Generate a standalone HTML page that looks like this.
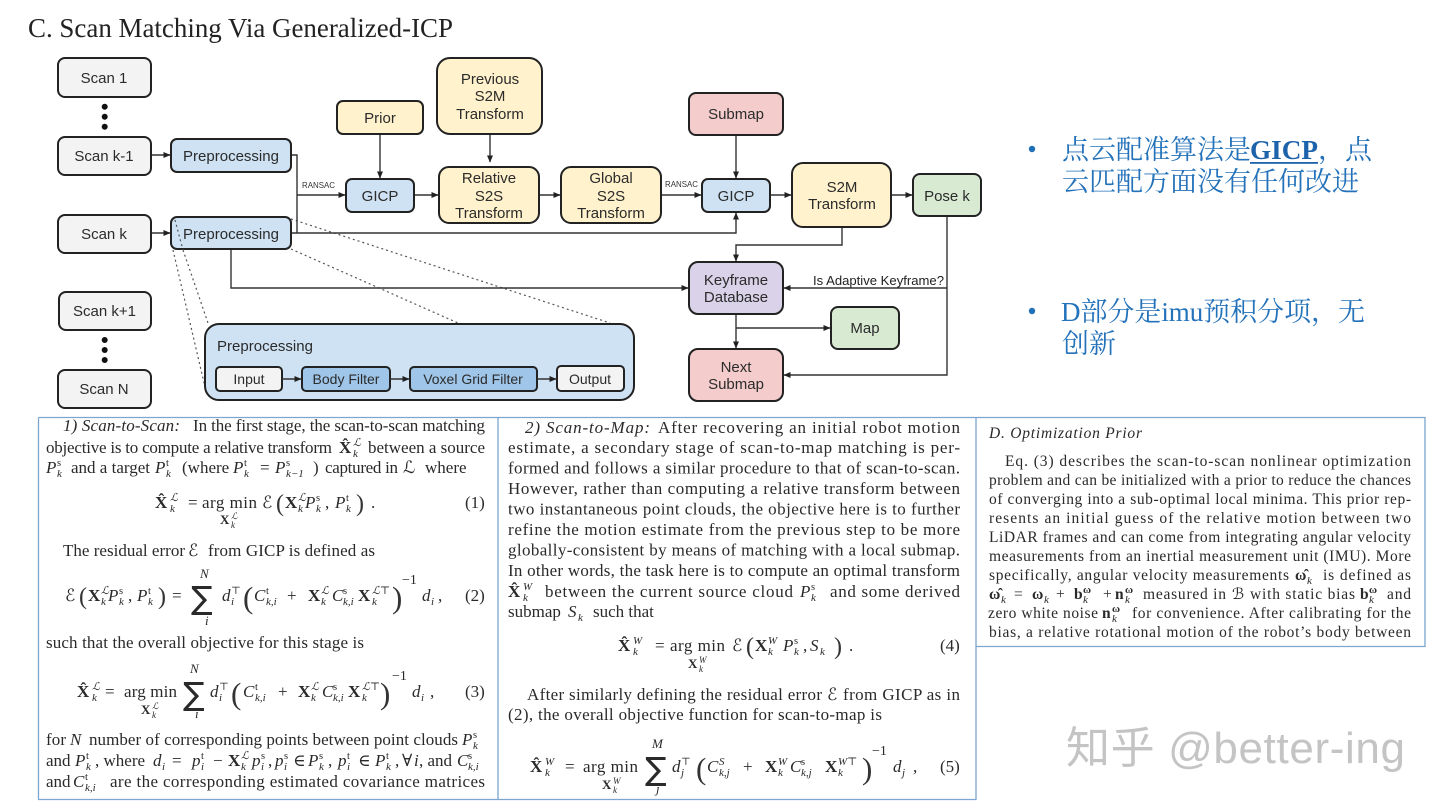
<!DOCTYPE html>
<html lang="zh"><head><meta charset="utf-8"><title>Scan Matching Via Generalized-ICP</title>
<style>
html,body{margin:0;padding:0;background:#fff}
svg{display:block}
.n{stroke:#222;stroke-width:2}
.l{font:15px "Liberation Sans","DejaVu Sans",sans-serif;fill:#2b2b2b;text-anchor:middle}
.c{stroke:#333;stroke-width:1.4;fill:none}
.d{stroke:#555;stroke-width:1.2;fill:none;stroke-dasharray:2 3}
.t{font:17px "Liberation Serif","DejaVu Serif",serif;fill:#2a2a2a}
.q{font:15.5px "Liberation Serif","DejaVu Serif",serif;fill:#2a2a2a}
.i{font-style:italic}
.b{font-weight:bold}
.s{font:italic 11px "Liberation Serif","DejaVu Serif",serif;fill:#2a2a2a}
.u{font:10.5px "Liberation Serif","DejaVu Serif",serif;fill:#2a2a2a}
.sb{font:bold 11px "Liberation Serif","DejaVu Serif",serif;fill:#2a2a2a}
.g{font:300 31px "Liberation Serif",serif;fill:#333}
.z{font:36px "DejaVu Sans",serif;fill:#2a2a2a}
.k{font:27px "Liberation Serif","Noto Serif CJK SC",serif;fill:#2472ba}
</style></head><body>
<svg xmlns="http://www.w3.org/2000/svg" width="1440" height="810" viewBox="0 0 1440 810">
<defs><marker id="a" markerWidth="7" markerHeight="6" refX="6.5" refY="3" orient="auto" markerUnits="userSpaceOnUse"><path d="M0 0L7 3L0 6z" fill="#222"/></marker></defs>
<rect width="1440" height="810" fill="#fff"/>
<text x="28" y="37" textLength="425" lengthAdjust="spacingAndGlyphs" style="font:27px 'Liberation Serif',serif;fill:#222">C. Scan Matching Via Generalized-ICP</text>

<!-- dotted -->
<path class="d" d="M291 219L610 323M291 249L458 323M173 250L205 387M183 250L208 323"/>

<!-- connectors -->
<g class="c">
<path d="M151 155H170" marker-end="url(#a)"/>
<path d="M151 233H170" marker-end="url(#a)"/>
<path d="M291 155H297V233"/>
<path d="M297 195H345" marker-end="url(#a)"/>
<path d="M291 233H736V213" marker-end="url(#a)"/>
<path d="M231 249V288H688" marker-end="url(#a)"/>
<path d="M380 134V178" marker-end="url(#a)"/>
<path d="M490 134V162" marker-end="url(#a)"/>
<path d="M414 195H438" marker-end="url(#a)"/>
<path d="M539 195H560" marker-end="url(#a)"/>
<path d="M661 195H701" marker-end="url(#a)"/>
<path d="M770 195H791" marker-end="url(#a)"/>
<path d="M891 195H912" marker-end="url(#a)"/>
<path d="M736 135V178" marker-end="url(#a)"/>
<path d="M842 227V245H736V261" marker-end="url(#a)"/>
<path d="M947 216V375H784" marker-end="url(#a)"/>
<path d="M947 288H784" marker-end="url(#a)"/>
<path d="M736 314V348" marker-end="url(#a)"/>
<path d="M736 328H830" marker-end="url(#a)"/>
</g>

<!-- nodes -->
<g class="n">
<rect x="58" y="58" width="93" height="39" rx="7" fill="#f3f3f3"/>
<rect x="58" y="137" width="93" height="38" rx="7" fill="#f3f3f3"/>
<rect x="58" y="215" width="93" height="38" rx="7" fill="#f3f3f3"/>
<rect x="59" y="292" width="92" height="38" rx="7" fill="#f3f3f3"/>
<rect x="58" y="370" width="93" height="38" rx="7" fill="#f3f3f3"/>
<rect x="171" y="139" width="120" height="33" rx="6" fill="#cfe2f3"/>
<rect x="171" y="217" width="120" height="32" rx="6" fill="#cfe2f3"/>
<rect x="337" y="101" width="86" height="33" rx="6" fill="#fff2cc"/>
<rect x="437" y="58" width="105" height="76" rx="13" fill="#fff2cc"/>
<rect x="346" y="179" width="68" height="33" rx="6" fill="#cfe2f3"/>
<rect x="439" y="167" width="100" height="56" rx="10" fill="#fff2cc"/>
<rect x="561" y="167" width="100" height="56" rx="10" fill="#fff2cc"/>
<rect x="702" y="179" width="68" height="33" rx="6" fill="#cfe2f3"/>
<rect x="689" y="93" width="94" height="42" rx="7" fill="#f4cccc"/>
<rect x="792" y="163" width="99" height="64" rx="11" fill="#fff2cc"/>
<rect x="913" y="174" width="68" height="42" rx="7" fill="#d9ead3"/>
<rect x="689" y="262" width="94" height="52" rx="9" fill="#d9d2e9"/>
<rect x="831" y="307" width="68" height="42" rx="7" fill="#d9ead3"/>
<rect x="689" y="349" width="94" height="52" rx="9" fill="#f4cccc"/>
<rect x="205" y="324" width="429" height="76" rx="14" fill="#cfe2f3"/>
<rect x="216" y="367" width="66" height="24" rx="4" fill="#f3f3f3"/>
<rect x="302" y="367" width="88" height="24" rx="4" fill="#9fc5e8"/>
<rect x="410" y="367" width="127" height="24" rx="4" fill="#9fc5e8"/>
<rect x="557" y="366" width="67" height="25" rx="4" fill="#f3f3f3"/>
</g>
<path class="d" d="M175 220L183 250"/>
<g class="c">
<path d="M282 379H301" marker-end="url(#a)"/>
<path d="M390 379H409" marker-end="url(#a)"/>
<path d="M537 379H556" marker-end="url(#a)"/>
</g>

<g fill="#111">
<circle cx="104.7" cy="106.7" r="3"/><circle cx="104.7" cy="116.7" r="3"/><circle cx="104.7" cy="126.7" r="3"/>
<circle cx="104.7" cy="340" r="3"/><circle cx="104.7" cy="350" r="3"/><circle cx="104.7" cy="360" r="3"/>
</g>

<!-- labels -->
<g class="l">
<text class="l" x="104" y="83">Scan 1</text>
<text class="l" x="104" y="161">Scan k-1</text>
<text class="l" x="104" y="239">Scan k</text>
<text class="l" x="104.500" y="316">Scan k+1</text>
<text class="l" x="104" y="394">Scan N</text>
<text class="l" x="231" y="161">Preprocessing</text>
<text class="l" x="231" y="239">Preprocessing</text>
<text class="l" x="380" y="123">Prior</text>
<text class="l" x="490" y="84">Previous</text>
<text class="l" x="490" y="101">S2M</text>
<text class="l" x="490" y="119">Transform</text>
<text class="l" x="380" y="201">GICP</text>
<text class="l" x="489" y="183">Relative</text>
<text class="l" x="489" y="201">S2S</text>
<text class="l" x="489" y="218">Transform</text>
<text class="l" x="611" y="183">Global</text>
<text class="l" x="611" y="201">S2S</text>
<text class="l" x="611" y="218">Transform</text>
<text class="l" x="736" y="201">GICP</text>
<text class="l" x="736" y="119">Submap</text>
<text class="l" x="842" y="192">S2M</text>
<text class="l" x="842" y="209">Transform</text>
<text class="l" x="947" y="201">Pose k</text>
<text class="l" x="736" y="285">Keyframe</text>
<text class="l" x="736" y="302">Database</text>
<text class="l" x="865" y="333">Map</text>
<text class="l" x="736" y="372">Next</text>
<text class="l" x="736" y="389">Submap</text>
<text class="l" x="265" y="351">Preprocessing</text>
<text class="l" x="249" y="384" style="font-size:14px">Input</text>
<text class="l" x="346" y="384" style="font-size:14px">Body Filter</text>
<text class="l" x="473" y="384" style="font-size:14px">Voxel Grid Filter</text>
<text class="l" x="590" y="384" style="font-size:14px">Output</text>
</g>
<text x="302" y="188" textLength="33" lengthAdjust="spacingAndGlyphs" style="font:8.500px 'Liberation Sans',sans-serif;fill:#333">RANSAC</text>
<text x="665" y="187" textLength="33" lengthAdjust="spacingAndGlyphs" style="font:8.500px 'Liberation Sans',sans-serif;fill:#333">RANSAC</text>
<text x="813" y="285" textLength="131" lengthAdjust="spacingAndGlyphs" style="font:12.500px 'Liberation Sans',sans-serif;fill:#222">Is Adaptive Keyframe?</text>

<!-- right notes -->
<circle cx="1032" cy="149" r="3.200" fill="#2070b8"/>
<circle cx="1032" cy="311" r="3.200" fill="#2070b8"/>
<text class="k" x="1062" y="159">点云配准算法是</text>
<text class="k b" x="1250" y="159" textLength="68" lengthAdjust="spacingAndGlyphs" style="fill:#1d63ab;font-weight:bold">GICP</text>
<rect x="1250" y="162" width="68" height="1.800" fill="#1d63ab"/>
<text class="k" x="1318" y="159">，</text>
<text class="k" x="1345" y="159">点</text>
<text class="k" x="1062" y="191">云匹配方面没有任何改进</text>
<text class="k" x="1061" y="321" textLength="304" lengthAdjust="spacing">D部分是imu预积分项，无</text>
<text class="k" x="1062" y="353">创新</text>

<!-- boxes -->
<path d="M38.500 417.500H1425V646.500H976M498 417.500V800M976 417.500V800M38.500 417.500V799.500H976" fill="none" stroke="#7aa6cf" stroke-width="1.300"/>

<!-- column 1 -->
<text class="t i" x="63" y="431" textLength="117" lengthAdjust="spacing">1)  Scan-to-Scan:</text>
<text class="t" x="193" y="431" textLength="292" lengthAdjust="spacing">In the first stage, the scan-to-scan matching</text>
<text class="t" x="46" y="453" textLength="286" lengthAdjust="spacing">objective is to compute a relative transform</text>
<text class="t b" x="339" y="453">X̂</text><text class="s" x="353" y="446">ℒ</text><text class="s" x="353" y="457">k</text>
<text class="t" x="368" y="453" textLength="117" lengthAdjust="spacing">between a source</text>
<text class="t i" x="46" y="473">P</text><text class="u" x="57" y="466">s</text><text class="s" x="57" y="477">k</text>
<text class="t" x="71" y="473">and a target</text>
<text class="t i" x="155" y="473">P</text><text class="u" x="166" y="466">t</text><text class="s" x="166" y="477">k</text>
<text class="t" x="182" y="473">(where</text>
<text class="t i" x="233" y="473">P</text><text class="u" x="244" y="466">t</text><text class="s" x="244" y="477">k</text>
<text class="t" x="260" y="473">=</text>
<text class="t i" x="275" y="473">P</text><text class="u" x="286" y="466">s</text><text class="s" x="286" y="477">k−1</text>
<text class="t" x="313" y="473">)</text>
<text class="t" x="325" y="473" textLength="73" lengthAdjust="spacing">captured in</text>
<text class="t" x="403" y="473">ℒ</text>
<text class="t" x="425" y="473">where</text>

<text class="t b" x="155" y="508">X̂</text><text class="s" x="170" y="501">ℒ</text><text class="s" x="170" y="512">k</text>
<text class="t" x="188" y="508">= </text><text class="t" x="202" y="508" textLength="55" lengthAdjust="spacing">arg min</text>
<text class="sb" x="220" y="524" style="font-size:13px">X</text><text class="s" x="231" y="519" style="font-size:9px">ℒ</text><text class="s" x="231" y="528" style="font-size:9px">k</text>
<text class="t" x="262" y="508">ℰ</text><text class="g" x="276" y="511" style="font-size:24px">(</text>
<text class="t b" x="285" y="508">X</text><text class="s" x="298" y="501">ℒ</text><text class="s" x="298" y="512">k</text>
<text class="t i" x="305" y="508">P</text><text class="u" x="316" y="501">s</text><text class="s" x="316" y="512">k</text><text class="t" x="325" y="508">,</text>
<text class="t i" x="335" y="508">P</text><text class="u" x="346" y="501">t</text><text class="s" x="346" y="512">k</text>
<text class="g" x="356" y="511" style="font-size:24px">)</text><text class="t" x="371" y="508">.</text>
<text class="t" x="465" y="508">(1)</text>

<text class="t" x="63" y="556" textLength="122" lengthAdjust="spacing">The residual error</text>
<text class="t" x="188" y="556">ℰ</text>
<text class="t" x="208" y="556" textLength="167" lengthAdjust="spacing">from GICP is defined as</text>

<text class="t" x="65" y="601">ℰ</text><text class="g" x="79" y="604" style="font-size:24px">(</text>
<text class="t b" x="88" y="601">X</text><text class="s" x="101" y="594">ℒ</text><text class="s" x="101" y="605">k</text>
<text class="t i" x="108" y="601">P</text><text class="u" x="119" y="594">s</text><text class="s" x="119" y="605">k</text><text class="t" x="128" y="601">,</text>
<text class="t i" x="137" y="601">P</text><text class="u" x="148" y="594">t</text><text class="s" x="148" y="605">k</text>
<text class="g" x="158" y="604" style="font-size:24px">)</text><text class="t" x="172" y="601">=</text>
<text class="z" x="191" y="609" style="font-size:32px">∑</text>
<text class="s" x="200" y="578" style="font-size:13px">N</text><text class="s" x="205" y="625" style="font-size:13px">i</text>
<text class="t i" x="222" y="601">d</text><text class="u" x="231" y="594">⊤</text><text class="s" x="231" y="605">i</text>
<text class="g" x="243" y="608">(</text>
<text class="t i" x="254" y="601">C</text><text class="u" x="266" y="594">t</text><text class="s" x="266" y="605">k,i</text>
<text class="t" x="287" y="601">+</text>
<text class="t b" x="308" y="601">X</text><text class="s" x="321" y="594">ℒ</text><text class="s" x="321" y="605">k</text>
<text class="t i" x="332" y="601">C</text><text class="u" x="343" y="594">s</text><text class="s" x="343" y="605">k,i</text>
<text class="t b" x="358" y="601">X</text><text class="s" x="372" y="594">ℒ⊤</text><text class="s" x="372" y="605">k</text>
<text class="g" x="392" y="608">)</text><text class="t" x="402" y="584" style="font-size:14px">−1</text>
<text class="t i" x="422" y="601">d</text><text class="s" x="431" y="605">i</text><text class="t" x="438" y="601">,</text>
<text class="t" x="465" y="601">(2)</text>

<text class="t" x="46" y="648" textLength="318" lengthAdjust="spacing">such that the overall objective for this stage is</text>

<text class="t b" x="77" y="697">X̂</text><text class="s" x="92" y="690">ℒ</text><text class="s" x="92" y="701">k</text>
<text class="t" x="105" y="697">=</text><text class="t" x="124" y="697" textLength="53" lengthAdjust="spacing">arg min</text>
<text class="sb" x="141" y="714" style="font-size:13px">X</text><text class="s" x="152" y="709" style="font-size:9px">ℒ</text><text class="s" x="152" y="718" style="font-size:9px">k</text>
<text class="z" x="183" y="705" style="font-size:32px">∑</text>
<text class="s" x="190" y="673" style="font-size:13px">N</text><text class="s" x="195" y="718" style="font-size:13px">i</text>
<text class="t i" x="210" y="697">d</text><text class="u" x="219" y="690">⊤</text><text class="s" x="219" y="701">i</text>
<text class="g" x="231" y="704">(</text>
<text class="t i" x="243" y="697">C</text><text class="u" x="255" y="690">t</text><text class="s" x="255" y="701">k,i</text>
<text class="t" x="278" y="697">+</text>
<text class="t b" x="298" y="697">X</text><text class="s" x="311" y="690">ℒ</text><text class="s" x="311" y="701">k</text>
<text class="t i" x="322" y="697">C</text><text class="u" x="333" y="690">s</text><text class="s" x="333" y="701">k,i</text>
<text class="t b" x="348" y="697">X</text><text class="s" x="362" y="690">ℒ⊤</text><text class="s" x="362" y="701">k</text>
<text class="g" x="380" y="704">)</text><text class="t" x="392" y="680" style="font-size:14px">−1</text>
<text class="t i" x="412" y="697">d</text><text class="s" x="421" y="701">i</text><text class="t" x="430" y="697">,</text>
<text class="t" x="465" y="697">(3)</text>

<text class="t" x="46" y="745" textLength="20" lengthAdjust="spacing">for</text>
<text class="t i" x="70" y="745">N</text>
<text class="t" x="89" y="745" textLength="369" lengthAdjust="spacing">number of corresponding points between point clouds</text>
<text class="t i" x="462" y="745">P</text><text class="u" x="473" y="738">s</text><text class="s" x="473" y="749">k</text>

<text class="t" x="46" y="766">and</text><text class="t i" x="75" y="766">P</text><text class="u" x="86" y="759">t</text><text class="s" x="86" y="770">k</text>
<text class="t" x="95" y="766">, where</text>
<text class="t i" x="153" y="766">d</text><text class="s" x="162" y="770">i</text><text class="t" x="172" y="766">=</text>
<text class="t i" x="192" y="766">p</text><text class="u" x="201" y="759">t</text><text class="s" x="201" y="770">i</text><text class="t" x="213" y="766">−</text>
<text class="t b" x="228" y="766">X</text><text class="s" x="241" y="759">ℒ</text><text class="s" x="241" y="770">k</text>
<text class="t i" x="252" y="766">p</text><text class="u" x="261" y="759">s</text><text class="s" x="261" y="770">i</text><text class="t" x="268" y="766">,</text>
<text class="t i" x="275" y="766">p</text><text class="u" x="284" y="759">s</text><text class="s" x="284" y="770">i</text><text class="t" x="293" y="766">∈</text>
<text class="t i" x="308" y="766">P</text><text class="u" x="319" y="759">s</text><text class="s" x="319" y="770">k</text><text class="t" x="328" y="766">,</text>
<text class="t i" x="338" y="766">p</text><text class="u" x="347" y="759">t</text><text class="s" x="347" y="770">i</text><text class="t" x="358" y="766">∈</text>
<text class="t i" x="375" y="766">P</text><text class="u" x="386" y="759">t</text><text class="s" x="386" y="770">k</text><text class="t" x="395" y="766">,</text>
<text class="t" x="402" y="766">∀</text><text class="t i" x="414" y="766">i</text><text class="t" x="419" y="766">, and</text>
<text class="t i" x="457" y="766">C</text><text class="u" x="468" y="759">s</text><text class="s" x="468" y="770">k,i</text>

<text class="t" x="46" y="787">and</text><text class="t i" x="73" y="787">C</text><text class="u" x="85" y="780">t</text><text class="s" x="85" y="791">k,i</text>
<text class="t" x="110" y="787" textLength="375" lengthAdjust="spacing">are the corresponding estimated covariance matrices</text>

<!-- column 2 -->
<text class="t i" x="525" y="433" textLength="125" lengthAdjust="spacing">2)  Scan-to-Map:</text>
<text class="t" x="658" y="433" textLength="302" lengthAdjust="spacing">After recovering an initial robot motion</text>
<text class="t" x="508" y="453" textLength="452" lengthAdjust="spacing">estimate, a secondary stage of scan-to-map matching is per-</text>
<text class="t" x="508" y="473.500" textLength="452" lengthAdjust="spacing">formed and follows a similar procedure to that of scan-to-scan.</text>
<text class="t" x="508" y="494" textLength="452" lengthAdjust="spacing">However, rather than computing a relative transform between</text>
<text class="t" x="508" y="514.500" textLength="452" lengthAdjust="spacing">two instantaneous point clouds, the objective here is to further</text>
<text class="t" x="508" y="535" textLength="452" lengthAdjust="spacing">refine the motion estimate from the previous step to be more</text>
<text class="t" x="508" y="555.500" textLength="452" lengthAdjust="spacing">globally-consistent by means of matching with a local submap.</text>
<text class="t" x="508" y="576" textLength="452" lengthAdjust="spacing">In other words, the task here is to compute an optimal transform</text>
<text class="t b" x="508" y="597">X̂</text><text class="s" x="523" y="590">W</text><text class="s" x="523" y="601">k</text>
<text class="t" x="545" y="597" textLength="248" lengthAdjust="spacing">between the current source cloud</text>
<text class="t i" x="800" y="597">P</text><text class="u" x="811" y="590">s</text><text class="s" x="811" y="601">k</text>
<text class="t" x="830" y="597" textLength="130" lengthAdjust="spacing">and some derived</text>
<text class="t" x="508" y="617">submap</text><text class="t i" x="568" y="617">S</text><text class="s" x="578" y="621">k</text>
<text class="t" x="593" y="617">such that</text>

<text class="t b" x="618" y="651">X̂</text><text class="s" x="633" y="644">W</text><text class="s" x="633" y="655">k</text>
<text class="t" x="655" y="651">=</text><text class="t" x="670" y="651" textLength="55" lengthAdjust="spacing">arg min</text>
<text class="sb" x="688" y="668" style="font-size:13px">X</text><text class="s" x="699" y="663" style="font-size:9px">W</text><text class="s" x="699" y="672" style="font-size:9px">k</text>
<text class="t" x="732" y="651">ℰ</text><text class="g" x="746" y="654" style="font-size:24px">(</text>
<text class="t b" x="755" y="651">X</text><text class="s" x="768" y="644">W</text><text class="s" x="768" y="655">k</text>
<text class="t i" x="783" y="651">P</text><text class="u" x="794" y="644">s</text><text class="s" x="794" y="655">k</text><text class="t" x="803" y="651">,</text>
<text class="t i" x="810" y="651">S</text><text class="s" x="820" y="655">k</text>
<text class="g" x="834" y="654" style="font-size:24px">)</text><text class="t" x="849" y="651">.</text>
<text class="t" x="940" y="651">(4)</text>

<text class="t" x="527" y="700" textLength="295" lengthAdjust="spacing">After similarly defining the residual error</text>
<text class="t" x="827" y="700">ℰ</text>
<text class="t" x="843" y="700" textLength="117" lengthAdjust="spacing">from GICP as in</text>
<text class="t" x="508" y="720" textLength="374" lengthAdjust="spacing">(2), the overall objective function for scan-to-map is</text>

<text class="t b" x="530" y="772">X̂</text><text class="s" x="545" y="765">W</text><text class="s" x="545" y="776">k</text>
<text class="t" x="565" y="772">=</text><text class="t" x="583" y="772" textLength="55" lengthAdjust="spacing">arg min</text>
<text class="sb" x="602" y="789" style="font-size:13px">X</text><text class="s" x="613" y="784" style="font-size:9px">W</text><text class="s" x="613" y="793" style="font-size:9px">k</text>
<text class="z" x="645" y="780" style="font-size:32px">∑</text>
<text class="s" x="652" y="748" style="font-size:13px">M</text><text class="s" x="656" y="793" style="font-size:13px">j</text>
<text class="t i" x="672" y="772">d</text><text class="u" x="681" y="765">⊤</text><text class="s" x="681" y="776">j</text>
<text class="g" x="696" y="779">(</text>
<text class="t i" x="707" y="772">C</text><text class="s" x="719" y="765">S</text><text class="s" x="719" y="776">k,j</text>
<text class="t" x="743" y="772">+</text>
<text class="t b" x="765" y="772">X</text><text class="s" x="778" y="765">W</text><text class="s" x="778" y="776">k</text>
<text class="t i" x="790" y="772">C</text><text class="u" x="801" y="765">s</text><text class="s" x="801" y="776">k,j</text>
<text class="t b" x="825" y="772">X</text><text class="s" x="838" y="765">W⊤</text><text class="s" x="838" y="776">k</text>
<text class="g" x="862" y="779">)</text><text class="t" x="872" y="755" style="font-size:14px">−1</text>
<text class="t i" x="893" y="772">d</text><text class="s" x="902" y="776">j</text><text class="t" x="913" y="772">,</text>
<text class="t" x="940" y="772">(5)</text>

<!-- column 3 -->
<text class="q i" x="989" y="438" textLength="153" lengthAdjust="spacing">D.  Optimization Prior</text>
<text class="q" x="1005" y="466" textLength="406" lengthAdjust="spacing">Eq. (3) describes the scan-to-scan nonlinear optimization</text>
<text class="q" x="989" y="485" textLength="422" lengthAdjust="spacing">problem and can be initialized with a prior to reduce the chances</text>
<text class="q" x="989" y="504" textLength="422" lengthAdjust="spacing">of converging into a sub-optimal local minima. This prior rep-</text>
<text class="q" x="989" y="523" textLength="422" lengthAdjust="spacing">resents an initial guess of the relative motion between two</text>
<text class="q" x="989" y="542" textLength="422" lengthAdjust="spacing">LiDAR frames and can come from integrating angular velocity</text>
<text class="q" x="989" y="561" textLength="422" lengthAdjust="spacing">measurements from an inertial measurement unit (IMU). More</text>
<text class="q" x="989" y="580" textLength="300" lengthAdjust="spacing">specifically, angular velocity measurements</text>
<text class="q b" x="1295" y="580">ω̂</text><text class="s" x="1307" y="584">k</text>
<text class="q" x="1323" y="580" textLength="88" lengthAdjust="spacing">is defined as</text>
<text class="q b" x="989" y="599">ω̂</text><text class="s" x="1001" y="603">k</text><text class="q" x="1014" y="599">=</text>
<text class="q b" x="1032" y="599">ω</text><text class="s" x="1044" y="603">k</text><text class="q" x="1056" y="599">+</text>
<text class="q b" x="1074" y="599">b</text><text class="sb" x="1083" y="593">ω</text><text class="s" x="1083" y="603">k</text><text class="q" x="1103" y="599">+</text>
<text class="q b" x="1115" y="599">n</text><text class="sb" x="1125" y="593">ω</text><text class="s" x="1125" y="603">k</text>
<text class="q" x="1143" y="599" textLength="83" lengthAdjust="spacing">measured in</text>
<text class="q" x="1232" y="599">ℬ</text>
<text class="q" x="1250" y="599" textLength="105" lengthAdjust="spacing">with static bias</text>
<text class="q b" x="1360" y="599">b</text><text class="sb" x="1369" y="593">ω</text><text class="s" x="1369" y="603">k</text>
<text class="q" x="1387" y="599" textLength="24" lengthAdjust="spacing">and</text>
<text class="q" x="988" y="618" textLength="110" lengthAdjust="spacing">zero white noise</text>
<text class="q b" x="1102" y="618">n</text><text class="sb" x="1112" y="612">ω</text><text class="s" x="1112" y="622">k</text>
<text class="q" x="1132" y="618" textLength="279" lengthAdjust="spacing">for convenience. After calibrating for the</text>
<text class="q" x="989" y="637" textLength="422" lengthAdjust="spacing">bias, a relative rotational motion of the robot’s body between</text>

<!-- watermark -->
<text x="1066" y="763" textLength="339" lengthAdjust="spacing" style="font:44px 'Liberation Sans','Noto Sans CJK SC',sans-serif;fill:#c4c4c4">知乎 @better-ing</text>
</svg>
</body></html>
